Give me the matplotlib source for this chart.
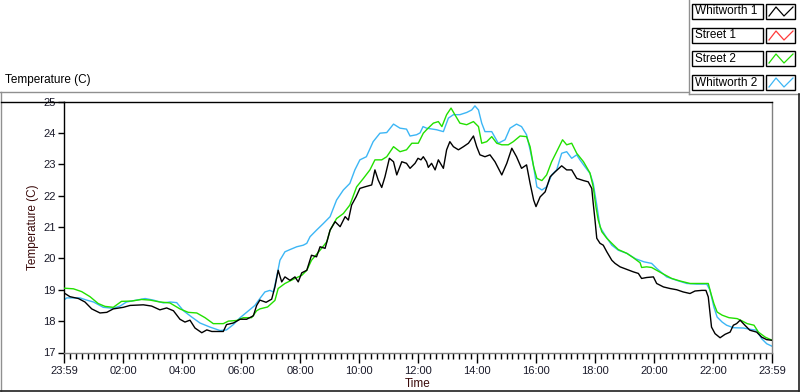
import matplotlib
matplotlib.use("Agg")
import matplotlib.pyplot as plt
from matplotlib.lines import Line2D
from matplotlib.patches import Rectangle
from matplotlib.ticker import MultipleLocator

# ---------------- data (hours since 23:59, temperature in C) ----------------
w1_hours = [0.0, 0.2, 0.49, 0.71, 0.94, 1.22, 1.45, 1.67, 2.01, 2.24, 2.69, 2.97, 3.25, 3.48, 3.71,
            3.93, 4.10, 4.27, 4.44, 4.67, 4.84, 5.01, 5.23, 5.40, 5.51, 5.74, 5.97, 6.19, 6.42, 6.53,
            6.64, 6.85, 7.04, 7.15, 7.26, 7.38, 7.49, 7.66, 7.83, 7.94, 8.06, 8.23, 8.39, 8.56, 8.68,
            8.85, 9.02, 9.19, 9.36, 9.53, 9.64, 9.75, 9.90, 10.03, 10.20, 10.43, 10.54, 10.65, 10.77,
            10.88, 11.03, 11.17, 11.28, 11.45, 11.61, 11.73, 11.90, 12.00, 12.10, 12.18, 12.29, 12.35,
            12.46, 12.58, 12.69, 12.86, 12.97, 13.08, 13.20, 13.37, 13.54, 13.71, 13.88, 13.99, 14.10,
            14.27, 14.44, 14.61, 14.84, 15.01, 15.18, 15.34, 15.51, 15.68, 15.80, 15.92, 16.00, 16.14,
            16.31, 16.48, 16.65, 16.87, 17.04, 17.21, 17.38, 17.61, 17.77, 17.89, 17.94, 18.00, 18.06,
            18.17, 18.28, 18.40, 18.57, 18.68, 18.85, 19.08, 19.30, 19.47, 19.58, 19.75, 19.98, 20.09,
            20.32, 20.54, 20.77, 20.99, 21.22, 21.39, 21.62, 21.76, 21.84, 21.90, 21.95, 22.07, 22.24,
            22.41, 22.58, 22.69, 22.80, 22.92, 23.08, 23.25, 23.48, 23.65, 23.82, 24.0]
w1_temps = [18.90, 18.78, 18.72, 18.61, 18.39, 18.26, 18.28, 18.39, 18.44, 18.50, 18.52, 18.48, 18.36,
            18.42, 18.33, 18.06, 17.97, 18.03, 17.78, 17.63, 17.72, 17.67, 17.67, 17.67, 17.89, 17.94,
            18.06, 18.06, 18.17, 18.50, 18.67, 18.60, 18.70, 19.09, 19.62, 19.25, 19.41, 19.30, 19.41,
            19.25, 19.54, 19.62, 20.10, 20.05, 20.37, 20.32, 20.90, 21.17, 21.01, 21.33, 21.22, 21.70,
            21.96, 22.23, 22.28, 22.34, 22.82, 22.50, 22.26, 22.60, 23.19, 23.08, 22.66, 23.08, 23.03,
            22.87, 23.03, 23.19, 23.14, 23.24, 23.08, 22.90, 23.03, 22.82, 23.14, 22.87, 23.46, 23.72,
            23.56, 23.46, 23.56, 23.67, 23.90, 23.56, 23.30, 23.24, 23.30, 23.08, 22.66, 23.03, 23.51,
            23.24, 22.87, 22.98, 22.39, 21.86, 21.65, 21.96, 22.12, 22.60, 22.76, 22.95, 22.82, 22.82,
            22.55, 22.48, 22.44, 22.23, 21.75, 21.22, 20.64, 20.48, 20.42, 20.21, 19.94, 19.84, 19.73,
            19.65, 19.57, 19.52, 19.36, 19.39, 19.41, 19.20, 19.09, 19.04, 19.00, 18.93, 18.88, 18.96,
            18.98, 18.98, 18.77, 18.24, 17.81, 17.60, 17.47, 17.58, 17.65, 17.87, 17.92, 18.03, 17.87,
            17.71, 17.65, 17.49, 17.41, 17.39]

s1_hours = []
s1_temps = []

s2_hours = [0.0, 0.32, 0.60, 0.88, 1.16, 1.39, 1.67, 1.95, 2.29, 2.63, 2.92, 3.25, 3.59, 3.93, 4.21,
            4.50, 4.78, 5.06, 5.40, 5.57, 5.85, 6.08, 6.36, 6.53, 6.64, 6.90, 7.15, 7.26, 7.49, 7.83,
            8.06, 8.23, 8.39, 8.68, 8.91, 9.02, 9.24, 9.47, 9.69, 9.92, 10.15, 10.37, 10.54, 10.77,
            10.94, 11.17, 11.39, 11.61, 11.79, 12.01, 12.18, 12.29, 12.52, 12.69, 12.81, 12.97, 13.12,
            13.25, 13.42, 13.65, 13.88, 14.05, 14.16, 14.33, 14.50, 14.67, 14.84, 15.06, 15.23, 15.46,
            15.68, 15.80, 15.92, 16.03, 16.20, 16.36, 16.53, 16.70, 16.90, 17.04, 17.21, 17.38, 17.61,
            17.83, 17.94, 18.03, 18.11, 18.23, 18.40, 18.57, 18.79, 19.08, 19.30, 19.53, 19.58, 19.75,
            19.92, 20.09, 20.32, 20.60, 20.88, 21.22, 21.56, 21.84, 21.93, 22.03, 22.14, 22.31, 22.54,
            22.82, 23.00, 23.16, 23.39, 23.54, 23.77, 24.0]
s2_temps = [19.05, 19.03, 18.94, 18.78, 18.56, 18.47, 18.44, 18.63, 18.64, 18.69, 18.67, 18.61, 18.58,
            18.39, 18.28, 18.26, 18.11, 17.92, 17.92, 18.00, 18.02, 18.11, 18.11, 18.33, 18.39, 18.45,
            18.66, 19.04, 19.20, 19.36, 19.46, 19.62, 19.94, 20.26, 20.53, 20.90, 21.27, 21.43, 21.70,
            22.28, 22.55, 22.82, 23.14, 23.14, 23.24, 23.56, 23.40, 23.46, 23.67, 23.67, 23.99, 24.10,
            24.31, 24.36, 24.20, 24.58, 24.79, 24.58, 24.31, 24.26, 24.36, 24.20, 23.67, 23.72, 23.88,
            23.67, 23.62, 23.62, 23.72, 23.90, 23.88, 23.56, 22.92, 22.55, 22.48, 22.66, 23.08, 23.40,
            23.78, 23.62, 23.67, 23.35, 23.08, 22.72, 22.28, 21.65, 21.22, 20.85, 20.64, 20.48, 20.28,
            20.16, 20.02, 19.86, 19.71, 19.73, 19.71, 19.62, 19.50, 19.36, 19.28, 19.20, 19.20, 19.20,
            18.88, 18.56, 18.29, 18.19, 18.11, 18.08, 18.00, 17.92, 17.87, 17.65, 17.49, 17.39]

w2_hours = [0.0, 0.09, 0.54, 0.77, 1.00, 1.33, 1.67, 1.90, 2.12, 2.46, 2.75, 3.03, 3.37, 3.59, 3.82,
            4.05, 4.33, 4.61, 4.95, 5.29, 5.51, 5.74, 5.97, 6.19, 6.47, 6.64, 6.81, 6.98, 7.10, 7.21,
            7.32, 7.49, 7.66, 7.89, 8.11, 8.23, 8.34, 8.56, 8.79, 9.02, 9.24, 9.47, 9.69, 9.86, 10.03,
            10.25, 10.48, 10.71, 10.94, 11.17, 11.39, 11.61, 11.73, 11.95, 12.07, 12.17, 12.29, 12.63,
            12.86, 13.03, 13.20, 13.42, 13.65, 13.82, 13.93, 14.05, 14.16, 14.27, 14.50, 14.72, 14.95,
            15.12, 15.34, 15.51, 15.68, 15.80, 15.92, 16.03, 16.20, 16.36, 16.53, 16.70, 16.87, 17.04,
            17.21, 17.38, 17.49, 17.66, 17.83, 17.94, 18.06, 18.17, 18.34, 18.57, 18.79, 19.08, 19.37,
            19.66, 19.92, 20.09, 20.43, 20.77, 21.11, 21.45, 21.79, 21.90, 22.03, 22.14, 22.31, 22.46,
            22.69, 23.03, 23.25, 23.48, 23.65, 23.82, 24.0]
w2_temps = [18.67, 18.74, 18.74, 18.67, 18.61, 18.44, 18.41, 18.48, 18.61, 18.67, 18.72, 18.67, 18.58,
            18.61, 18.59, 18.33, 18.13, 17.94, 17.81, 17.70, 17.72, 17.89, 18.11, 18.28, 18.50, 18.72,
            18.93, 18.98, 18.93, 19.41, 19.94, 20.21, 20.28, 20.37, 20.42, 20.48, 20.69, 20.90, 21.11,
            21.33, 21.86, 22.18, 22.39, 22.82, 23.14, 23.24, 23.72, 23.99, 24.01, 24.28, 24.15, 24.12,
            23.90, 23.94, 24.00, 24.20, 24.15, 24.10, 24.04, 24.47, 24.58, 24.58, 24.65, 24.73, 24.86,
            24.73, 24.31, 24.04, 24.04, 23.67, 23.78, 24.15, 24.28, 24.20, 23.94, 23.46, 22.92, 22.28,
            22.18, 22.28, 22.66, 22.82, 23.35, 23.40, 23.19, 23.30, 23.14, 22.92, 22.71, 22.39, 21.70,
            21.00, 20.74, 20.42, 20.26, 20.16, 19.99, 19.89, 19.84, 19.68, 19.41, 19.30, 19.20, 19.18,
            19.18, 18.98, 18.45, 18.13, 17.97, 17.87, 17.79, 17.78, 17.74, 17.71, 17.44, 17.28, 17.20]

series_names = ["Whitworth 1", "Street 1", "Street 2", "Whitworth 2"]
series_colors = ["#000000", "#ff3a3a", "#22e000", "#3cb6f5"]
tick_hours = [0, 2, 4, 6, 8, 10, 12, 14, 16, 18, 20, 22, 24]
tick_labels = ["23:59", "02:00", "04:00", "06:00", "08:00", "10:00", "12:00",
               "14:00", "16:00", "18:00", "20:00", "22:00", "23:59"]
y_ticks = [17, 18, 19, 20, 21, 22, 23, 24, 25]

# ---------------- figure ----------------
W, H = 800, 392
fig = plt.figure(figsize=(W / 100, H / 100), dpi=100)
fig.patch.set_facecolor("white")
FONT = "Liberation Sans"


def px(x, y):
    return x / W, (H - y) / H


ax = fig.add_axes([64 / W, (H - 352.5) / H, 708 / W, 251 / H])
data = [(w1_hours, w1_temps), (s1_hours, s1_temps), (s2_hours, s2_temps), (w2_hours, w2_temps)]
zorders = [5, 3, 4, 2]
for (hx, ty), c, z, n in zip(data, series_colors, zorders, series_names):
    ax.plot(hx, ty, color=c, lw=1.0, zorder=z, label=n)

ax.set_xlim(0, 24)
ax.set_ylim(17, 25)
ax.set_xticks(tick_hours)
ax.set_xticklabels(tick_labels)
ax.xaxis.set_minor_locator(MultipleLocator(0.2))
ax.set_yticks(y_ticks)
ax.set_yticklabels([str(v) for v in y_ticks])
ax.tick_params(axis="x", which="major", length=7, width=1, color="#000000", pad=3,
               labelsize=8, labelcolor="#1a1a2a", direction="out")
ax.tick_params(axis="x", which="minor", length=4, width=1, color="#000000", direction="out")
ax.tick_params(axis="y", which="major", length=4, width=1, color="#000000", pad=2,
               labelsize=8, labelcolor="#1a1a2a", direction="out")
for lab in ax.get_xticklabels() + ax.get_yticklabels():
    lab.set_fontfamily(FONT)

ax.spines["left"].set_color("#000000")
ax.spines["top"].set_color("#000000")
ax.spines["right"].set_color("#808080")
ax.spines["bottom"].set_color("#808080")
for s in ax.spines.values():
    s.set_linewidth(1.0)

ax.set_xlabel("Time", fontsize=8.5, color="#3a0a0a", fontfamily=FONT, labelpad=1)
ax.set_ylabel("Temperature (C)", fontsize=8.5, color="#3a0a0a", fontfamily=FONT, labelpad=3)

# title at top left
fig.text(*px(5, 80), "Temperature (C)", fontsize=8.5, fontfamily=FONT, color="#000000",
         ha="left", va="center")


def fline(xs, ys, color, lw=1.0):
    fig.add_artist(Line2D([x / W for x in xs], [(H - y) / H for y in ys],
                          transform=fig.transFigure, color=color, lw=lw))


# panel frame
fline([1, 1], [92, 391], "#909090")
fline([0, 689], [92, 92], "#909090")
fline([689, 689], [0, 94], "#909090")
fline([689, 800], [94, 94], "#909090")
fline([1, 64], [101.7, 101.7], "#000000", 1.0)
fline([798.5, 798.5], [94, 391], "#202020", 1.2)
fline([0, 799], [391, 391], "#202020", 1.2)

# legend
entry_tops = [4, 28, 51, 75]
for name, col, top in zip(series_names, series_colors, entry_tops):
    fig.add_artist(Rectangle(px(692, top + 15), 71 / W, 15 / H, transform=fig.transFigure,
                             facecolor="white", edgecolor="#000000", lw=1.0))
    fig.text(*px(695, top + 7.5), name, fontsize=8.5, fontfamily=FONT, color="#000000",
             ha="left", va="center")
    fig.add_artist(Rectangle(px(766, top + 15), 29 / W, 15 / H, transform=fig.transFigure,
                             facecolor="white", edgecolor="#000000", lw=1.0))
    fline([769, 776, 784, 793], [top + 12, top + 3, top + 12, top + 3], col, 0.9)

fig.savefig("out.png", dpi=100, facecolor="white")
